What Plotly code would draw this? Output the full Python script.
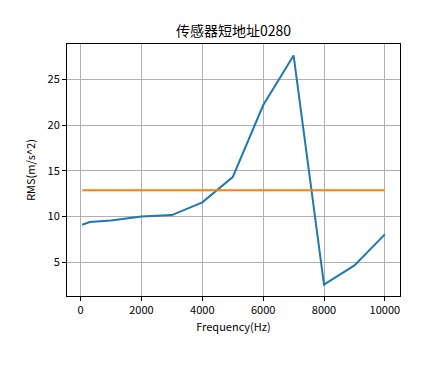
import plotly.graph_objects as go

freq = [50, 300, 1000, 2000, 3000, 4000, 5000, 6000, 7000, 8000, 9000, 10000]
rms = [9.1, 9.4, 9.57, 10.01, 10.15, 11.55, 14.32, 22.18, 27.63, 2.55, 4.64, 8.04]
threshold = 12.86
x_ticks = [0, 2000, 4000, 6000, 8000, 10000]
x_labels = ["0", "2000", "4000", "6000", "8000", "10000"]
y_ticks = [5, 10, 15, 20, 25]

FONT = "Noto Sans CJK SC"

fig = go.Figure()
fig.add_trace(go.Scatter(x=freq, y=rms, mode="lines",
                         line=dict(color="#1f77b4", width=2), showlegend=False))
fig.add_trace(go.Scatter(x=[freq[0], freq[-1]], y=[threshold, threshold], mode="lines",
                         line=dict(color="#ff7f0e", width=2), showlegend=False))

axis_common = dict(showline=True, linecolor="black", linewidth=1, mirror=True,
                   ticks="outside", ticklen=4, tickcolor="black",
                   showgrid=True, gridcolor="#b0b0b0", gridwidth=1, zeroline=False,
                   tickfont=dict(family=FONT, size=11, color="black"))

xmin, xmax = freq[0], freq[-1]
xpad = (xmax - xmin) * 0.05
ymin, ymax = min(rms), max(rms)
ypad = (ymax - ymin) * 0.05

fig.update_layout(
    width=444, height=370,
    paper_bgcolor="white", plot_bgcolor="white",
    margin=dict(l=59, r=52, t=36, b=82),
    title=dict(text="传感器短地址0280", x=(59 + 333 / 2) / 444, xanchor="center",
               y=1 - 23 / 370, yanchor="middle",
               font=dict(family=FONT, size=14, color="black")),
    xaxis=dict(range=[xmin - xpad, xmax + xpad], tickvals=x_ticks, ticktext=x_labels,
               title=dict(text="Frequency(Hz)", font=dict(family=FONT, size=11, color="black"), standoff=7),
               **axis_common),
    yaxis=dict(range=[ymin - ypad, ymax + ypad], tickvals=y_ticks,
               title=dict(text="RMS(m/s^2)", font=dict(family=FONT, size=11, color="black"), standoff=9),
               **axis_common),
)

fig.write_html("out.html")
